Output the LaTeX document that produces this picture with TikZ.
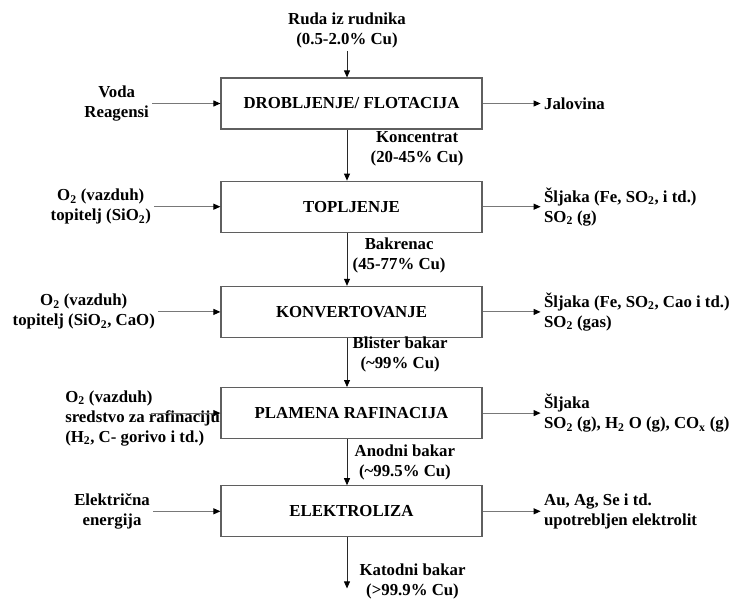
\documentclass[tikz,border=0pt]{standalone}
\usepackage{fontspec}
\setmainfont{Liberation Serif}
\usepackage{tikz}
\usetikzlibrary{arrows.meta, positioning}
\definecolor{framegray}{RGB}{95, 95, 95}
\definecolor{linegray}{RGB}{40, 40, 40}
\definecolor{feedgray}{RGB}{120, 120, 120}

\begin{document}
\begin{tikzpicture}[
    x=1pt, y=1pt,
    font=\fontsize{16.8pt}{20pt}\selectfont\bfseries,
    box/.style={rectangle, draw=framegray, line width=1.2pt, minimum width=261pt, minimum height=51pt, align=center},
    side/.style={align=center},
    product/.style={align=left},
    lbl/.style={right, align=center, text=black},
    arrow/.style={-{Triangle[length=7pt, width=6pt, color=black]}, line width=0.8pt, linegray},
    feed/.style={arrow, line width=1pt, feedgray}
]
    \useasboundingbox (0,0) rectangle (737,-598);

    % process steps
    \node[box] (dro) at (351.5,-103.5) {DROBLJENJE/ FLOTACIJA};
    \node[box, below=51pt of dro]  (topl) {TOPLJENJE};
    \node[box, below=53pt of topl] (konv) {KONVERTOVANJE};
    \node[box, below=49pt of konv] (plam) {PLAMENA RAFINACIJA};
    \node[box, below=46pt of plam] (elek) {ELEKTROLIZA};

    \node[side, above=26pt of dro, xshift=-4.5pt] (ruda) {Ruda iz rudnika\\(0.5-2.0\% Cu)};
    \coordinate[below=51pt of elek, xshift=-4.5pt] (izlaz);
    \node[side, right=9pt of izlaz, yshift=7pt] (katodni) {Katodni bakar\\(>99.9\% Cu)};

    % inputs
    \node[side, left=68pt of dro]  (voda) {Voda\\Reagensi};
    \node[side, left=66pt of topl] (o2a)  {O\textsubscript{2} (vazduh)\\topitelj (SiO\textsubscript{2})};
    \node[side, left=62pt of konv] (o2b)  {O\textsubscript{2} (vazduh)\\topitelj (SiO\textsubscript{2}, CaO)};
    \node[product, left=-3pt of plam, yshift=-5pt] (sred) {O\textsubscript{2} (vazduh)\\sredstvo za rafinaciju\\(H\textsubscript{2}, C- gorivo i td.)};
    \coordinate[left=69pt of plam.west] (ulaz);
    \node[side, left=67pt of elek] (struja) {Električna\\energija};

    % outputs
    \node[product, right=58pt of dro]  (jal)   {Jalovina};
    \node[product, right=58pt of topl] (sl1)   {Šljaka (Fe, SO\textsubscript{2}, i td.)\\SO\textsubscript{2} (g)};
    \node[product, right=58pt of konv] (sl2)   {Šljaka (Fe, SO\textsubscript{2}, Cao i td.)\\SO\textsubscript{2} (gas)};
    \node[product, right=58pt of plam] (sl3)   {Šljaka\\SO\textsubscript{2} (g), H\textsubscript{2} O (g), CO\textsubscript{x} (g)};
    \node[product, right=58pt of elek] (mulj)  {Au, Ag, Se i td.\\upotrebljen elektrolit};

    % main flow
    \draw[arrow] (ruda) -- ([xshift=-4.5pt]dro.north);
    \draw[arrow] ([xshift=-4.5pt]dro.south) -- node[lbl, xshift=20pt, yshift=6pt]{Koncentrat\\(20-45\% Cu)} ([xshift=-4.5pt]topl.north);
    \draw[arrow] ([xshift=-4.5pt]topl.south) -- node[lbl, xshift=2pt, yshift=4pt]{Bakrenac\\(45-77\% Cu)} ([xshift=-4.5pt]konv.north);
    \draw[arrow] ([xshift=-4.5pt]konv.south) -- node[lbl, xshift=2pt, yshift=8pt]{Blister bakar\\(\textasciitilde 99\% Cu)} ([xshift=-4.5pt]plam.north);
    \draw[arrow] ([xshift=-4.5pt]plam.south) -- node[lbl, xshift=4pt]{Anodni bakar\\(\textasciitilde 99.5\% Cu)} ([xshift=-4.5pt]elek.north);
    \draw[arrow] ([xshift=-4.5pt]elek.south) -- (izlaz);

    % side streams
    \draw[feed] (voda.east) -- (dro.west);
    \draw[feed] (o2a.east) -- (topl.west);
    \draw[feed] (o2b.east) -- (konv.west);
    \draw[feed] (ulaz) -- (plam.west);
    \draw[feed] (struja.east) -- (elek.west);
    \draw[feed] (dro.east) -- (jal.west);
    \draw[feed] (topl.east) -- (sl1.west);
    \draw[feed] (konv.east) -- (sl2.west);
    \draw[feed] (plam.east) -- (sl3.west);
    \draw[feed] (elek.east) -- (mulj.west);
\end{tikzpicture}
\end{document}
